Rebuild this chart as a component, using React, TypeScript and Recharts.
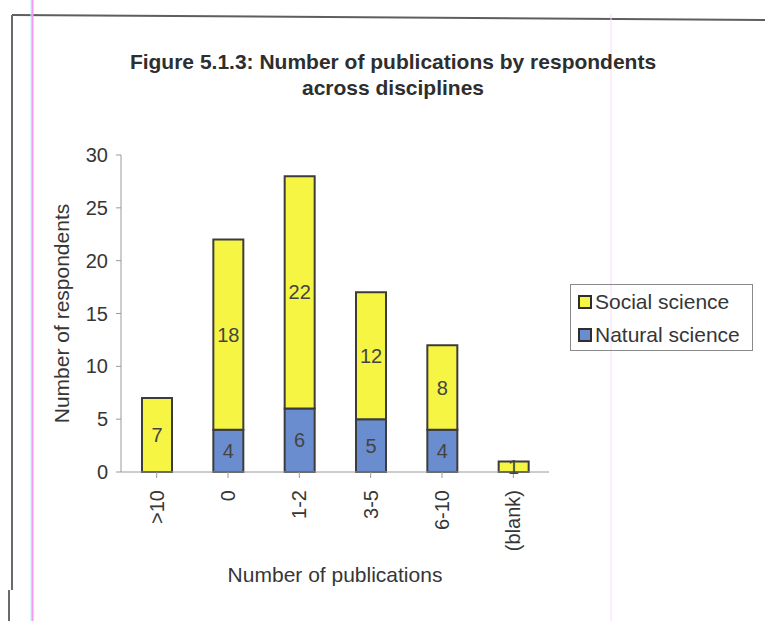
import React from "react";
import { Bar, BarChart, LabelList, XAxis, YAxis } from "recharts";

const categories = [">10", "0", "1-2", "3-5", "6-10", "(blank)"];
const naturalScience = [0, 4, 6, 5, 4, 0];
const socialScience = [7, 18, 22, 12, 8, 1];
const yTicks = [0, 5, 10, 15, 20, 25, 30];

const FONT = '"Liberation Sans", Arial, sans-serif';
const TEXT = "#363636";
const YELLOW = "#f6f544";
const BLUE = "#6a8dcf";
const OUTLINE = "#3c3c3c";

// stacked bottom-up: natural science first, social science on top
const series = [
  { key: "natural", name: "Natural science", color: BLUE },
  { key: "social", name: "Social science", color: YELLOW },
];

const rows = categories.map((label, i) => ({
  label,
  natural: naturalScience[i],
  social: socialScience[i],
}));

const hideZero = (v: unknown) => (Number(v) ? String(v) : "");

function CategoryTick(props: any) {
  const { x, y, payload } = props;
  return (
    <text
      x={x}
      y={y}
      transform={`rotate(-90 ${x} ${y})`}
      textAnchor="end"
      dy="0.35em"
      fill={TEXT}
      fontSize={20}
      fontFamily={FONT}
    >
      {payload.value}
    </text>
  );
}

function ChartLegend() {
  // legend lists the top segment first
  const items = series.slice().reverse();
  return (
    <div
      style={{
        position: "absolute",
        left: 570,
        top: 284,
        width: 181,
        height: 65,
        border: "1px solid #8a8a8a",
        fontFamily: FONT,
        fontSize: 21,
        color: TEXT,
        boxSizing: "content-box",
      }}
    >
      {items.map((s, i) => (
        <div
          key={s.key}
          style={{
            position: "absolute",
            left: 7,
            top: 5 + i * 33,
            height: 24,
            display: "flex",
            alignItems: "center",
            whiteSpace: "nowrap",
          }}
        >
          <span
            style={{
              display: "inline-block",
              width: 10,
              height: 10,
              background: s.color,
              border: "2px solid #2e2e2e",
              marginRight: 3,
            }}
          />
          {s.name}
        </div>
      ))}
    </div>
  );
}

export default function App() {
  return (
    <div
      style={{
        position: "absolute",
        left: 0,
        top: 0,
        width: 765,
        height: 621,
        background: "#ffffff",
        overflow: "hidden",
      }}
    >
      {/* page frame and scanner streaks */}
      <svg width={765} height={621} style={{ position: "absolute", left: 0, top: 0 }}>
        <line x1={12} y1={15} x2={765} y2={20} stroke="#5e5e5e" strokeWidth={2} />
        <line x1={12} y1={15} x2={12} y2={590} stroke="#6a6a6a" strokeWidth={2} />
        <line x1={9} y1={590} x2={9} y2={621} stroke="#6a6a6a" strokeWidth={2} />
        <line x1={31} y1={0} x2={31} y2={621} stroke="#b8f4f8" strokeWidth={1} />
        <line x1={32.5} y1={0} x2={32.5} y2={621} stroke="#f49af0" strokeWidth={2} />
        <line x1={611} y1={14} x2={611} y2={621} stroke="#f6dcf6" strokeWidth={1} />
      </svg>

      <div
        style={{
          position: "absolute",
          left: 43,
          top: 49,
          width: 700,
          textAlign: "center",
          fontFamily: FONT,
          fontWeight: "bold",
          fontSize: 21,
          lineHeight: "26px",
          color: "#2e2e2e",
        }}
      >
        Figure 5.1.3: Number of publications by respondents
        <br />
        across disciplines
      </div>

      <div style={{ position: "absolute", left: 0, top: 0 }}>
        <BarChart
          width={765}
          height={621}
          data={rows}
          margin={{ top: 155, right: 216, bottom: 39, left: 61 }}
          barSize={30}
        >
          <XAxis
            dataKey="label"
            height={110}
            interval={0}
            tick={<CategoryTick />}
            tickSize={6}
            tickMargin={12}
            axisLine={{ stroke: "#9a9a9a" }}
            tickLine={{ stroke: "#9a9a9a" }}
            label={{
              value: "Number of publications",
              position: "insideBottom",
              offset: 0,
              fill: TEXT,
              fontSize: 21,
              fontFamily: FONT,
            }}
          />
          <YAxis
            width={60}
            domain={[0, 30]}
            ticks={yTicks}
            interval={0}
            tickSize={5}
            tickMargin={8}
            axisLine={{ stroke: "#9a9a9a" }}
            tickLine={{ stroke: "#9a9a9a" }}
            tick={{ fill: TEXT, fontSize: 20, fontFamily: FONT }}
            label={{
              value: "Number of respondents",
              angle: -90,
              position: "insideLeft",
              offset: 1,
              fill: TEXT,
              fontSize: 21,
              fontFamily: FONT,
              style: { textAnchor: "middle" },
            }}
          />
          {series.map((s) => (
            <Bar
              key={s.key}
              dataKey={s.key}
              name={s.name}
              stackId="pubs"
              fill={s.color}
              stroke={OUTLINE}
              strokeWidth={2}
              isAnimationActive={false}
            >
              <LabelList
                dataKey={s.key}
                position="center"
                formatter={hideZero}
                fill="#444444"
                fontSize={20}
                fontFamily={FONT}
              />
            </Bar>
          ))}
        </BarChart>
      </div>

      <ChartLegend />
    </div>
  );
}
